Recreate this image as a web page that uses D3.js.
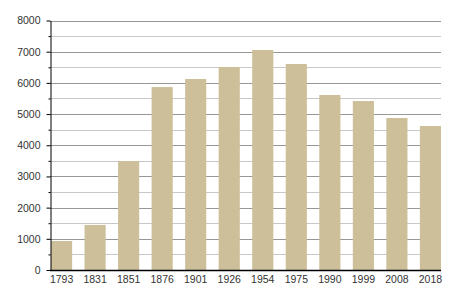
<!DOCTYPE html>
<html>
<head>
<meta charset="utf-8">
<script src="https://cdn.jsdelivr.net/npm/d3@7"></script>
<style>
body { margin: 0; background: #fff; }
text { font-family: "Liberation Sans", Arial, sans-serif; }
</style>
</head>
<body>
<script>
var years = ["1793","1831","1851","1876","1901","1926","1954","1975","1990","1999","2008","2018"];
var population = [930, 1445, 3495, 5866, 6124, 6509, 7054, 6605, 5611, 5418, 4873, 4617];
var majorTicks = [0,1000,2000,3000,4000,5000,6000,7000,8000];
var minorTicks = [500,1500,2500,3500,4500,5500,6500,7500];

var width = 450;
var height = 300;

var svg = d3.select("body")
.append("svg")
.attr("width",width)
.attr("height",height);

var x = d3.scaleBand()
.domain(years)
.range([51,441])
.paddingInner(0.37)
.paddingOuter(0);

var y = d3.scaleLinear()
.domain([0,8000])
.range([270,20.5]);

// grid lines
svg.selectAll(".minor")
.data(minorTicks)
.enter()
.append("line")
.attr("x1",50)
.attr("x2",441)
.attr("y1",function(d){ return Math.round(y(d))+0.5; })
.attr("y2",function(d){ return Math.round(y(d))+0.5; })
.attr("stroke","#c8c8c8");

svg.selectAll(".major")
.data(majorTicks.slice(1))
.enter()
.append("line")
.attr("x1",50)
.attr("x2",441)
.attr("y1",function(d){ return Math.round(y(d))+0.5; })
.attr("y2",function(d){ return Math.round(y(d))+0.5; })
.attr("stroke","#979797");

// bars
svg.selectAll("rect")
.data(population)
.enter()
.append("rect")
.attr("x",function(d,i){ return x(years[i]); })
.attr("y",function(d){ return y(d); })
.attr("width",x.bandwidth())
.attr("height",function(d){ return y(0) - y(d); })
.attr("fill","#cdbf99");

// y axis
var yAxis = d3.axisLeft(y)
.tickValues(majorTicks)
.tickFormat(d3.format("d"))
.tickSize(4)
.tickPadding(6)
.tickSizeOuter(0);

var gy = svg.append("g")
.attr("transform","translate(50.5,0)")
.call(yAxis);
gy.selectAll("line").attr("stroke","#000");
gy.select(".domain").attr("stroke","#000");
gy.selectAll("text")
.attr("font-family","Liberation Sans, Arial, sans-serif")
.attr("font-size","10.5px")
.attr("fill","#333");

var gMinor = svg.append("g")
.attr("transform","translate(50.5,0)")
.call(d3.axisLeft(y).tickValues(minorTicks).tickSize(2).tickFormat("").tickSizeOuter(0));
gMinor.select(".domain").remove();
gMinor.selectAll("line").attr("stroke","#000");

// x axis
var xAxis = d3.axisBottom(x)
.tickSize(0)
.tickPadding(5)
.tickSizeOuter(0);

var gx = svg.append("g")
.attr("transform","translate(0,270.5)")
.call(xAxis);
gx.select(".domain").attr("d","M50,0H441").attr("stroke","#000").attr("stroke-width",1.5);
gx.selectAll("text")
.attr("font-family","Liberation Sans, Arial, sans-serif")
.attr("font-size","10.5px")
.attr("fill","#333");
</script>
</body>
</html>
